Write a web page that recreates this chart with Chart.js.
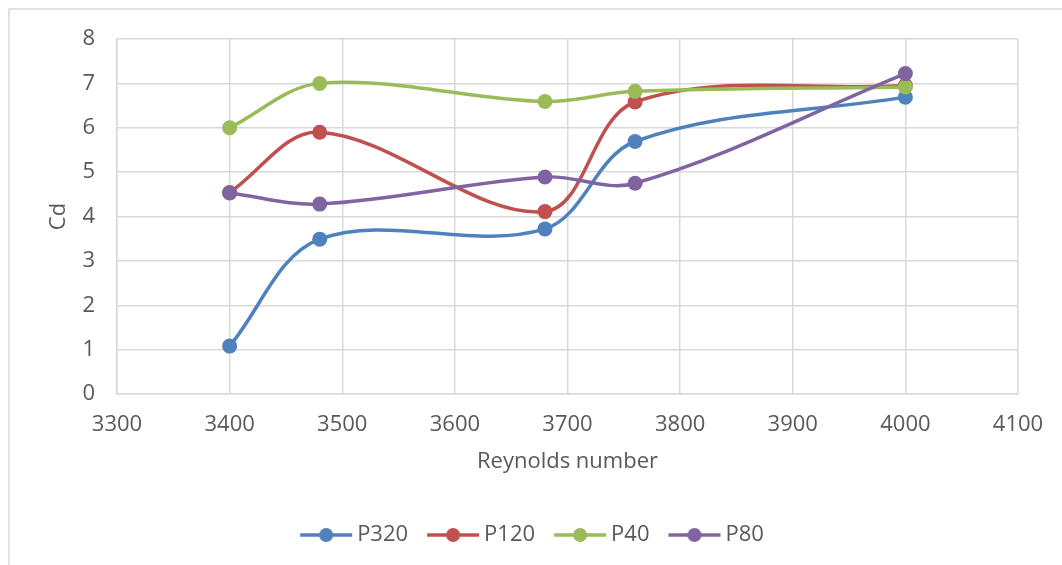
<!DOCTYPE html>
<html>
<head>
<meta charset="utf-8">
<script src="https://cdn.jsdelivr.net/npm/chart.js@4.4.1/dist/chart.umd.min.js"></script>
<style>
  html, body { margin: 0; padding: 0; background: #fff; }
  #wrap { width: 1062px; height: 565px; position: relative; }
</style>
</head>
<body>
<div id="wrap"><canvas id="chart"></canvas></div>
<script>
// values
const reynolds = [3400, 3480, 3680, 3760, 4000];
const p320 = [1.08, 3.49, 3.72, 5.69, 6.69];
const p120 = [4.54, 5.90, 4.11, 6.58, 6.95];
const p40 = [6.00, 7.00, 6.59, 6.82, 6.92];
const p80 = [4.53, 4.28, 4.89, 4.75, 7.22];
const seriesNames = ['P320', 'P120', 'P40', 'P80'];
const seriesColors = ['#4F81BD', '#C0504D', '#9BBB59', '#8064A2'];

const textColor = '#595959';
const gridColor = '#d9d9d9';
const font = { family: 'Open Sans', size: 22 };

// legend marker: line with a dot in the middle
function legendMarker(color) {
  const c = document.createElement('canvas');
  c.width = 54; c.height = 16;
  const g = c.getContext('2d');
  g.strokeStyle = color;
  g.lineWidth = 3.5;
  g.beginPath(); g.moveTo(1, 8); g.lineTo(53, 8); g.stroke();
  g.fillStyle = color;
  g.beginPath(); g.arc(27, 8, 7, 0, Math.PI * 2); g.fill();
  return c;
}

function toPoints(ys) {
  return reynolds.map((x, i) => ({ x: x, y: ys[i] }));
}

const allValues = [p320, p120, p40, p80];
const datasets = allValues.map((vals, i) => ({
  label: seriesNames[i],
  data: toPoints(vals),
  borderColor: seriesColors[i],
  backgroundColor: seriesColors[i],
  borderWidth: 3.5,
  pointRadius: 7.5,
  pointHoverRadius: 7.5,
  pointBorderWidth: 0,
  tension: 0.35,
  order: 3 - i // later series on top, like the original
}));

// white background + the light frame on top and left
const frame = {
  id: 'frame',
  beforeDraw(chart) {
    const ctx = chart.ctx;
    ctx.save();
    ctx.fillStyle = '#fff';
    ctx.fillRect(0, 0, chart.width, chart.height);
    ctx.strokeStyle = gridColor;
    ctx.lineWidth = 1.5;
    ctx.beginPath();
    ctx.moveTo(9, chart.height);
    ctx.lineTo(9, 9);
    ctx.lineTo(chart.width, 9);
    ctx.stroke();
    ctx.restore();
  }
};

new Chart(document.getElementById('chart'), {
  type: 'line',
  data: { datasets: datasets },
  plugins: [frame],
  options: {
    responsive: true,
    maintainAspectRatio: false,
    animation: false,
    layout: { padding: { left: 8, right: 0, top: 39, bottom: 9 } },
    plugins: {
      tooltip: { enabled: false },
      legend: {
        position: 'bottom',
        labels: {
          color: textColor,
          font: font,
          usePointStyle: true,
          pointStyleWidth: 40,
          padding: 25,
          generateLabels(chart) {
            return chart.data.datasets.map((ds, i) => ({
              text: ds.label,
              fontColor: textColor,
              pointStyle: legendMarker(seriesColors[i]),
              strokeStyle: seriesColors[i],
              fillStyle: seriesColors[i],
              lineWidth: 0,
              datasetIndex: i,
              hidden: false
            }));
          }
        }
      }
    },
    scales: {
      x: {
        type: 'linear',
        min: 3300,
        max: 4100,
        ticks: {
          stepSize: 100, color: textColor, font: font, padding: 18,
          callback: (v) => String(v)
        },
        grid: { color: gridColor, lineWidth: 1.5, drawTicks: false },
        border: { color: gridColor, width: 1.5 },
        title: {
          display: true,
          text: 'Reynolds number',
          color: textColor,
          font: font,
          padding: { top: 0, bottom: 23.8 }
        },
        afterFit(scale) { scale.height = 105; }
      },
      y: {
        min: 0,
        max: 8,
        ticks: { stepSize: 1, color: textColor, font: font, padding: 22 },
        grid: { color: gridColor, lineWidth: 1.5, drawTicks: false },
        border: { color: gridColor, width: 1.5 },
        title: {
          display: true,
          text: 'Cd',
          color: textColor,
          font: font,
          padding: { top: 37.8, bottom: 0 }
        },
        afterFit(scale) { scale.width = 109; }
      },
      // empty scale that only keeps the right margin of the plot
      yRight: {
        position: 'right',
        min: 0,
        max: 8,
        grid: { display: false },
        border: { display: false },
        ticks: { display: false },
        afterFit(scale) { scale.width = 44; }
      }
    }
  }
});
</script>
</body>
</html>
